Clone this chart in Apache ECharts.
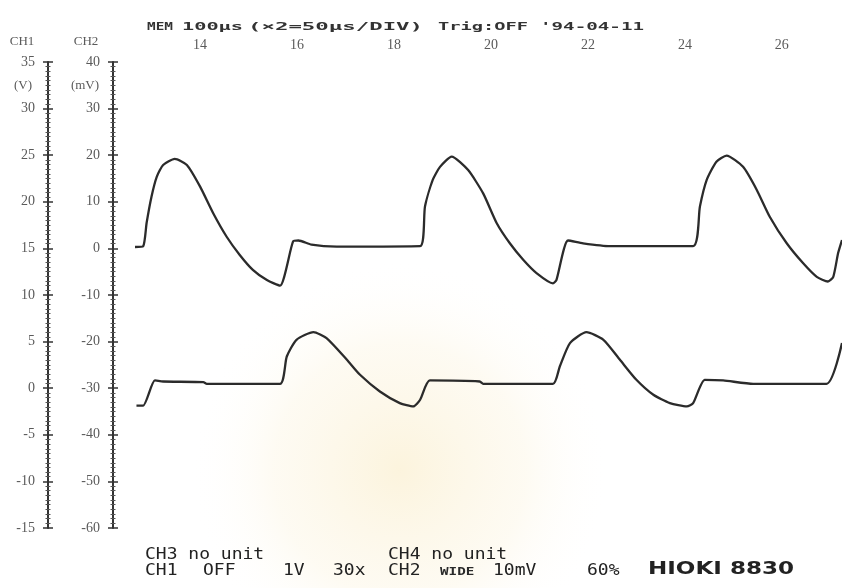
<!DOCTYPE html>
<html>
<head>
<meta charset="utf-8">
<title>HIOKI 8830 recorder printout</title>
<script src="https://cdn.jsdelivr.net/npm/echarts@6/dist/echarts.min.js"></script>
<style>
  html, body { margin: 0; padding: 0; background: #fff; }
  #main { width: 842px; height: 588px; }
</style>
</head>
<body>
<div id="main"></div>
<script>
// Time axis (divisions) and the two traces
const timeUpper = [12.66, 12.83, 12.90, 13.00, 13.11, 13.24, 13.48, 13.73, 14.00, 14.27, 14.55, 14.82, 15.09, 15.38, 15.65,
    15.92, 16.03, 16.30, 16.82, 18.54, 18.64, 18.80, 18.95, 19.19, 19.53, 19.84, 20.12, 20.39, 20.67, 20.94, 21.28,
    21.35, 21.59, 21.90, 22.45, 24.17, 24.31, 24.45, 24.65, 24.86, 25.20, 25.48, 25.75, 26.10, 26.44, 26.72, 26.95,
    27.06, 27.16, 27.24];
const ch2Upper = [0.3, 0.5, 5.5, 11.1, 15.4, 17.9, 19.2, 17.9, 13.3, 7.6, 2.5, -1.4, -4.6, -6.8, -8.0,
    1.5, 1.7, 0.8, 0.4, 0.5, 9.0, 14.7, 17.5, 19.7, 16.8, 11.8, 5.4, 1.1, -2.5, -5.3, -7.5,
    -6.8, 1.7, 1.1, 0.5, 0.5, 9.0, 14.7, 18.6, 19.9, 17.5, 12.6, 6.8, 1.1, -3.2, -6.1, -7.1,
    -6.1, -1.0, 1.8];

const timeLower = [12.69, 12.83, 13.07, 13.24, 14.07, 14.14, 15.65, 15.79, 15.99, 16.34, 16.61, 17.03, 17.30, 17.71,
    18.12, 18.40, 18.54, 18.74, 19.77, 19.84, 21.28, 21.42, 21.63, 21.97, 22.32, 22.66, 23.00, 23.35, 23.69,
    24.04, 24.17, 24.41, 24.79, 25.41, 26.92, 27.24];
const ch1Lower = [-1.86, -1.86, 0.83, 0.72, 0.65, 0.47, 0.47, 3.40, 5.19, 6.02, 5.37, 3.05, 1.44, -0.35,
    -1.60, -1.96, -1.24, 0.83, 0.72, 0.47, 0.47, 2.33, 4.84, 6.02, 5.19, 3.05, 0.90, -0.71, -1.60,
    -1.96, -1.60, 0.90, 0.83, 0.47, 0.47, 4.84];

// Scale limits printed on the left
const ch1Range = [-15, 35, 5];
const ch2Range = [-60, 40, 10];

var chart = echarts.init(document.getElementById('main'));

var inkColor = '#2b2b2b';
var labelFont = { fontFamily: 'Liberation Serif', fontSize: 14, color: '#5a5a5a' };

function makeAxis(range, offset, withLabels, inside) {
    return {
        type: 'value',
        position: 'left',
        offset: offset,
        min: range[0],
        max: range[1],
        interval: range[2],
        axisLine: { show: withLabels, lineStyle: { color: '#333', width: 2 } },
        axisTick: { show: true, inside: inside, length: 5, lineStyle: { color: '#333', width: 1.5 } },
        minorTick: { show: true, splitNumber: 10, length: 2.5, lineStyle: { color: '#555', width: 1 } },
        axisLabel: Object.assign({ show: withLabels, margin: 13 }, labelFont),
        splitLine: { show: false }
    };
}

// printer text is spaced out, so stretch each piece to the width it has on paper
function label(text, x, y, opts) {
    opts = opts || {};
    var size = opts.size || 12;
    var scaleX = opts.scaleX || 1;
    if (opts.width) {
        scaleX = opts.width / (text.length * size * 0.602);
    }
    return {
        type: 'text',
        x: x,
        y: y,
        scaleX: scaleX,
        z: 10,
        style: {
            text: text,
            fontFamily: opts.font || 'DejaVu Sans Mono',
            fontSize: size,
            fontWeight: opts.weight || 'normal',
            fill: opts.color || '#2a2a2a',
            textAlign: opts.align || 'left',
            textVerticalAlign: 'middle'
        }
    };
}

function head(text, x, width) {
    return label(text, x, 27, { size: 11, weight: 'bold', width: width, color: '#333' });
}

var footOpts = { size: 15, scaleX: 1.2, color: '#222' };
var axisHeadOpts = { font: 'Liberation Serif', size: 13, align: 'center', color: '#5a5a5a' };

var option = {
    animation: false,
    backgroundColor: '#ffffff',
    grid: { left: 103, right: 0, top: 62, bottom: 60, containLabel: false, outerBoundsMode: 'none' },
    xAxis: {
        type: 'value',
        position: 'top',
        min: 12,
        max: 27.24,
        interval: 2,
        axisLine: { show: false },
        axisTick: { show: false },
        splitLine: { show: false },
        axisLabel: Object.assign({ margin: 10, showMinLabel: false, showMaxLabel: false }, labelFont)
    },
    yAxis: [
        makeAxis(ch2Range, -10, true, false),
        makeAxis(ch2Range, -10, false, true),
        makeAxis(ch1Range, 55, true, false),
        makeAxis(ch1Range, 55, false, true)
    ],
    series: [
        {
            name: 'CH2',
            type: 'line',
            yAxisIndex: 0,
            symbol: 'none',
            smooth: 0.2,
            lineStyle: { color: inkColor, width: 2.3 },
            data: timeUpper.map(function (t, i) { return [t, ch2Upper[i]]; })
        },
        {
            name: 'CH1',
            type: 'line',
            yAxisIndex: 2,
            symbol: 'none',
            smooth: 0.2,
            lineStyle: { color: inkColor, width: 2.3 },
            data: timeLower.map(function (t, i) { return [t, ch1Lower[i]]; })
        }
    ],
    graphic: [
        // faint watermark of the scan
        {
            type: 'circle',
            shape: { cx: 400, cy: 470, r: 210 },
            z: -10,
            silent: true,
            style: {
                fill: new echarts.graphic.RadialGradient(0.5, 0.5, 0.5, [
                    { offset: 0, color: 'rgba(248, 230, 180, 0.45)' },
                    { offset: 0.6, color: 'rgba(250, 238, 205, 0.25)' },
                    { offset: 1, color: 'rgba(255, 255, 255, 0)' }
                ])
            }
        },
        label('CH1', 22, 42, axisHeadOpts),
        label('(V)', 23, 86, axisHeadOpts),
        label('CH2', 86, 42, axisHeadOpts),
        label('(mV)', 85, 86, axisHeadOpts),

        head('MEM', 147, 26),
        head('100\u03bcs', 182, 61),
        head('(\u00d72=50\u03bcs/DIV)', 248, 175),
        head('Trig:OFF', 438, 90),
        head('\'94-04-11', 540, 104),

        label('CH3 no unit', 145, 555, footOpts),
        label('CH4 no unit', 388, 555, footOpts),
        label('CH1', 145, 571, footOpts),
        label('OFF', 203, 571, footOpts),
        label('1V', 283, 571, footOpts),
        label('30x', 333, 571, footOpts),
        label('CH2', 388, 571, footOpts),
        label('WIDE', 440, 572, { size: 11, scaleX: 1.3, weight: 'bold', color: '#2a2a2a' }),
        label('10mV', 493, 571, footOpts),
        label('60%', 587, 571, footOpts),
        label('HIOKI 8830', 648, 569, { font: 'DejaVu Sans', size: 18, weight: 'bold', scaleX: 1.28, color: '#222' })
    ]
};

option && chart.setOption(option);
</script>
</body>
</html>
